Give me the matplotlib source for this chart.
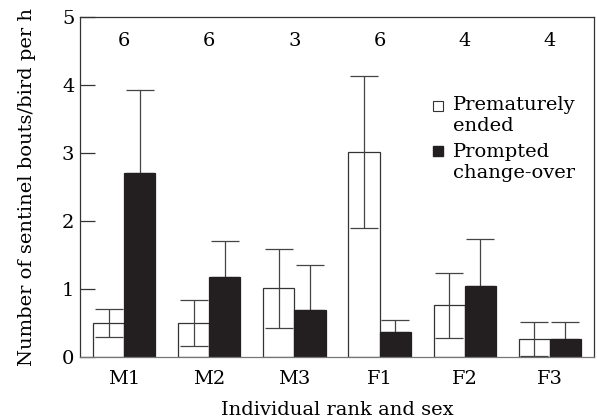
import numpy as np
import matplotlib
matplotlib.use("Agg")
import matplotlib.pyplot as plt

plt.rcParams['font.family'] = ['DejaVu Serif']

# data
groups = ["M1", "M2", "M3", "F1", "F2", "F3"]
n_birds = [6, 6, 3, 6, 4, 4]
ended = [0.50, 0.50, 1.01, 3.01, 0.76, 0.27]
ended_se = [0.20, 0.34, 0.58, 1.12, 0.48, 0.25]
prompted = [2.70, 1.18, 0.69, 0.37, 1.05, 0.27]
prompted_se = [1.23, 0.53, 0.66, 0.18, 0.69, 0.25]

fig = plt.figure(figsize=(5.97, 4.2), dpi=100)
ax = fig.add_axes([80/597, 63/420, 514/597, 340/420])

x = np.arange(len(groups))
w = 0.365
ecol = "#333333"
fs = 14

ax.bar(x - w/2, ended, w, color="white", edgecolor=ecol, linewidth=0.9, zorder=2)
ax.bar(x + w/2, prompted, w, color="#231f20", edgecolor="#231f20", linewidth=0.9, zorder=2)

ax.errorbar(x - w/2, ended, yerr=ended_se, fmt="none", ecolor="#444444",
            elinewidth=0.9, capsize=10, capthick=0.9, zorder=3)
ax.errorbar(x + w/2, prompted, yerr=[np.zeros(len(groups)), prompted_se], fmt="none",
            ecolor="#444444", elinewidth=0.9, capsize=10, capthick=0.9, zorder=1)

for xi, n in zip(x, n_birds):
    ax.text(xi, 4.64, str(n), ha="center", va="center", fontsize=fs)

ax.set_xlim(-0.52, 5.52)
ax.set_ylim(0, 5)
ax.set_xticks(x)
ax.set_xticklabels(groups, fontsize=fs)
ax.set_yticks([0, 1, 2, 3, 4, 5])
ax.tick_params(axis="x", length=0, pad=9)
ax.tick_params(axis="y", direction="in", length=11, width=0.9, color="#333333",
               labelsize=fs, pad=4)

for s in ["top", "right", "left"]:
    ax.spines[s].set_color("#333333")
    ax.spines[s].set_linewidth(0.9)
ax.spines["bottom"].set_color("#777777")
ax.spines["bottom"].set_linewidth(0.9)

ax.set_xlabel("Individual rank and sex", fontsize=fs)
ax.xaxis.label.set_va("baseline")
ax.xaxis.set_label_coords(0.5, -0.171)
ax.set_ylabel("Number of sentinel bouts/bird per h", fontsize=fs)
ax.yaxis.label.set_va("baseline")
ax.yaxis.set_label_coords(-0.093, 0.5)

# legend, one text per line so the square sits on the first line
ax.plot([0.697], [0.738], marker="s", markersize=7.5, markerfacecolor="white",
        markeredgecolor="#333333", markeredgewidth=0.8, transform=ax.transAxes, clip_on=False)
ax.plot([0.697], [0.606], marker="s", markersize=7.5, markerfacecolor="#231f20",
        markeredgecolor="#231f20", transform=ax.transAxes, clip_on=False)
leg_lines = ["Prematurely", "ended", "Prompted", "change-over"]
leg_y = [0.7265, 0.6647, 0.5882, 0.5265]
for txt, yy in zip(leg_lines, leg_y):
    ax.text(0.726, yy, txt, transform=ax.transAxes, fontsize=fs, va="baseline", ha="left")

fig.savefig("out.png", dpi=100)
